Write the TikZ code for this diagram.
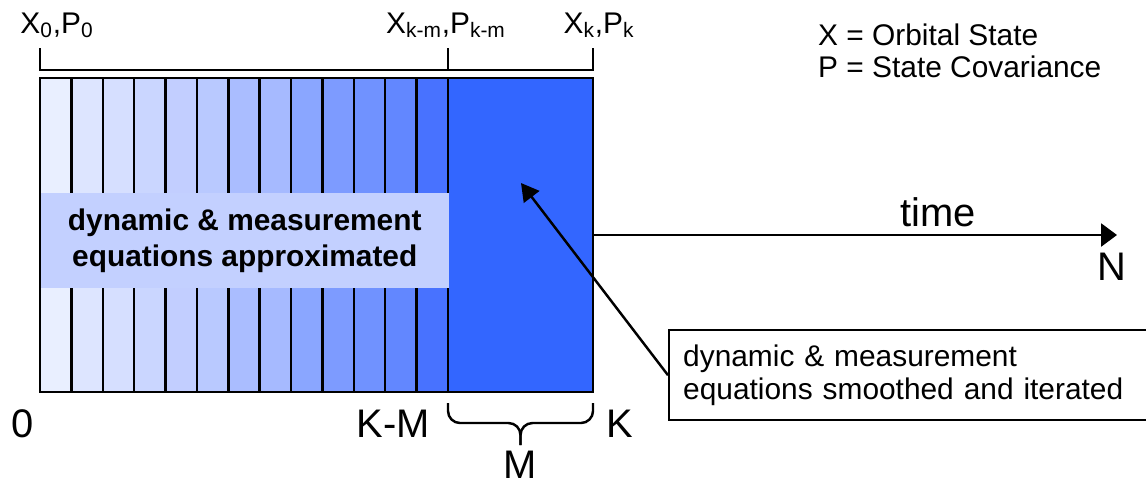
\documentclass[tikz,border=0pt]{standalone}
\usepackage{fontspec}
\setmainfont{Liberation Sans}
\usetikzlibrary{arrows.meta}

\tikzset{every picture/.style={line width=1.4pt}}

\begin{document}
\begin{tikzpicture}[x=0.02cm, y=-0.02cm,
        lbl/.style={font=\fontsize{17}{18.7}\selectfont, inner sep=0pt},
        biglbl/.style={font=\fontsize{22.7}{25}\selectfont, inner sep=0pt}]
        \useasboundingbox (0,0) rectangle (1146,485);
        % old part of the window, getting darker toward K-M
        \foreach \i/\r/\g in {0/233/239, 1/221/229, 2/214/223, 3/202/214, 4/194/206, 5/185/201, 6/170/189, 7/166/186, 8/138/166, 9/125/155, 10/112/146, 11/98/135, 12/72/114}
            \draw[fill={rgb,255:red,\r;green,\g;blue,255}] ({40+\i*408/13},78) rectangle ({40+(\i+1)*408/13},392);
        \node[draw, fill={rgb,255:red,51;green,102;blue,255}, minimum width=2.9cm, minimum height=6.28cm, inner sep=0pt, outer sep=0pt] (recent) at (520.5,235) {};
        \node[fill={rgb,255:red,195;green,208;blue,255}, minimum width=8.17cm, minimum height=1.9cm, align=center, font=\bfseries\fontsize{17}{20.4}\selectfont] (approx) at (244.75,240.5) {dynamic \& measurement\\equations approximated};
        % bracket on top
        \draw (40,48) -- (40,70) -- (593,70) -- (593,48);
        \draw (448,48) -- (448,70);
        \node[lbl, anchor=base] (x0) at (57,33) {X\textsubscript{0},P\textsubscript{0}};
        \node[lbl, anchor=base] (xkm) at (446,33) {X\textsubscript{k-m},P\textsubscript{k-m}};
        \node[lbl, anchor=base] (xk) at (599,33) {X\textsubscript{k},P\textsubscript{k}};
        \node[lbl, anchor=base west] (legx) at (817,45) {X = Orbital State};
        \node[lbl, anchor=base west] (legp) at (817,77) {P = State Covariance};
        % bottom
        \node[biglbl, anchor=base] (zero) at (23,437) {0};
        \node[biglbl, anchor=base] (km) at (393,437) {K-M};
        \node[biglbl, anchor=base] (kk) at (620,437) {K};
        \draw[rounded corners=0.24cm] (448,403) -- (448,423) -- (520.5,423) -- (520.5,445);
        \draw[rounded corners=0.24cm] (593,403) -- (593,423) -- (520.5,423) -- (520.5,445);
        \node[biglbl, anchor=base] (mm) at (520,478) {M};
        % time axis
        \coordinate (tend) at (1117,235);
        \draw[-{Triangle[length=9pt,width=13pt]}] (recent.east) -- (tend);
        \node[biglbl, anchor=base] (time) at (938,226) {time};
        \node[biglbl, anchor=base] (nn) at (1112,280) {N};
        % callout
        \node[draw, anchor=north west, text width=9.5cm, minimum height=1.8cm, inner xsep=0.28cm, align=left, font=\fontsize{17}{18.7}\selectfont] (smoothed) at (668,329) {dynamic \& measurement\\equations smoothed and iterated};
        \coordinate (ctip) at (521,183);
        \draw[-{Triangle[length=10pt,width=11pt]}] (smoothed.west) -- (ctip);
    \end{tikzpicture}
\end{document}
